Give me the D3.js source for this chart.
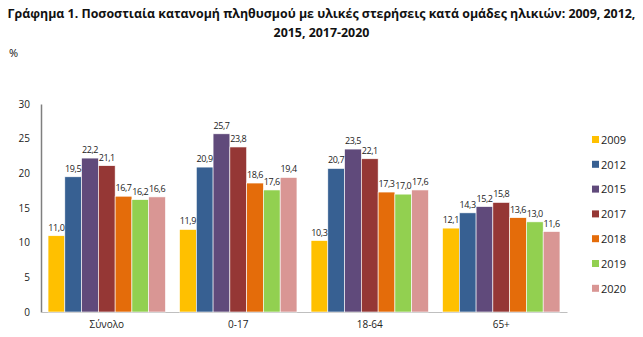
<!DOCTYPE html>
<html><head><meta charset="utf-8">
<script src="https://cdn.jsdelivr.net/npm/d3@7"></script>
<style>body{margin:0;background:#fff}svg{display:block}text{font-family:"Open Sans","Noto Sans",sans-serif}</style>
</head><body>
<svg id="c" width="643" height="337"></svg>
<script>
const categories = ["Σύνολο", "0-17", "18-64", "65+"];
const years = ["2009", "2012", "2015", "2017", "2018", "2019", "2020"];
const colors = ["#FFC000", "#376092", "#604A7B", "#953735", "#E46C0A", "#92D050", "#D99694"];
const values = {
  "2009": [11.0, 11.9, 10.3, 12.1],
  "2012": [19.5, 20.9, 20.7, 14.3],
  "2015": [22.2, 25.7, 23.5, 15.2],
  "2017": [21.1, 23.8, 22.1, 15.8],
  "2018": [16.7, 18.6, 17.3, 13.6],
  "2019": [16.2, 17.6, 17.0, 13.0],
  "2020": [16.6, 19.4, 17.6, 11.6]
};
const yTicks = [0, 5, 10, 15, 20, 25, 30];

(function () {
const svg = d3.select("#c");
const mLeft = 41, mRight = 567, mTop = 104, mBottom = 312;
const x0 = d3.scaleBand().domain(categories).range([mLeft, mRight]).paddingInner(0).paddingOuter(0);
const x1 = d3.scaleBand().domain(years).range([0, x0.bandwidth()]).paddingOuter(0.42).paddingInner(0);
const y = d3.scaleLinear().domain([0, 30]).range([mBottom, mTop]);
const color = d3.scaleOrdinal().domain(years).range(colors);
const fmt = v => v.toFixed(1).replace(".", ",");

// title
const title = svg.append("text").attr("x", 321.5).attr("text-anchor", "middle")
  .style("font-weight", "bold").style("font-size", "12.4px").attr("fill", "#111");
title.append("tspan").attr("x", 321.5).attr("y", 18).text("Γράφημα 1. Ποσοστιαία κατανομή πληθυσμού με υλικές στερήσεις κατά ομάδες ηλικιών: 2009, 2012,");
title.append("tspan").attr("x", 321.5).attr("y", 37).text("2015, 2017-2020");

svg.append("text").attr("x", 9).attr("y", 57).style("font-size", "11px").attr("fill", "#111").text("%");

// y axis
const yAxis = d3.axisLeft(y).tickValues(yTicks).tickSize(0).tickPadding(11).tickFormat(d3.format("d"));
const gy = svg.append("g").attr("transform", `translate(${mLeft},0)`).call(yAxis);
gy.select(".domain").attr("stroke", "#7f7f7f").attr("stroke-width", 1.5);
gy.selectAll("text").style("font-size", "10px").attr("fill", "#222").style("font-family", '"Open Sans",sans-serif');

// x axis
const xAxis = d3.axisBottom(x0).tickSize(0).tickPadding(9);
const gx = svg.append("g").attr("transform", `translate(0,${mBottom})`).call(xAxis);
gx.select(".domain").attr("stroke", "#bfbfbf").attr("stroke-width", 1);
gx.selectAll("text").style("font-size", "10px").attr("fill", "#222").style("font-family", '"Open Sans",sans-serif');

// bars
const groups = svg.append("g").selectAll("g").data(categories).join("g")
  .attr("transform", d => `translate(${x0(d)},0)`);
groups.selectAll("rect").data((d, i) => years.map(yr => ({ yr, v: values[yr][i] }))).join("rect")
  .attr("x", d => x1(d.yr)).attr("width", x1.bandwidth())
  .attr("y", d => y(d.v)).attr("height", d => y(0) - y(d.v))
  .attr("fill", d => color(d.yr)).attr("stroke", "#fff").attr("stroke-width", 0.6);
groups.selectAll("text").data((d, i) => years.map(yr => ({ yr, v: values[yr][i] }))).join("text")
  .attr("x", d => x1(d.yr) + x1.bandwidth() / 2).attr("y", d => y(d.v) - 5)
  .attr("text-anchor", "middle").style("font-size", "9px").style("letter-spacing", "-0.4px")
  .attr("fill", "#222").text(d => fmt(d.v));

// legend
const lg = svg.append("g").selectAll("g").data(years).join("g")
  .attr("transform", (d, i) => `translate(592,${140 + i * 24.8})`);
lg.append("rect").attr("x", 0).attr("y", -4).attr("width", 7).attr("height", 7).attr("fill", d => color(d));
lg.append("text").attr("x", 9).attr("y", 0).attr("dy", "0.35em").style("font-size", "11px").attr("fill", "#222").text(d => d);
})();
</script>
</body></html>
